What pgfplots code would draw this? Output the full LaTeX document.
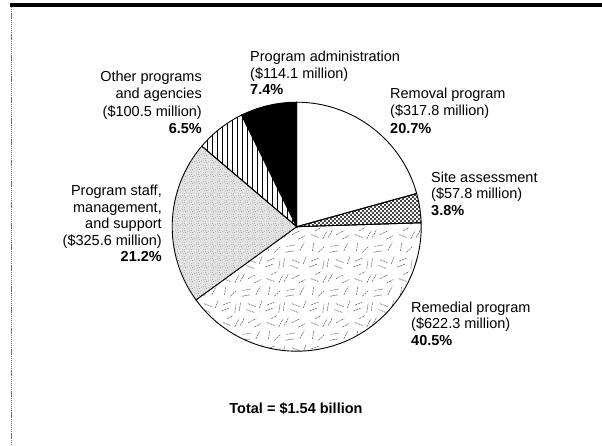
\documentclass[border=0pt]{standalone}
\usepackage{fontspec}
\setmainfont{Liberation Sans}
\usepackage{pgfplots}
\pgfplotsset{compat=1.18}
\usetikzlibrary{patterns}

% random short dashes (remedial program)
\pgfdeclarepatternformonly{remed}{\pgfqpoint{0bp}{0bp}}{\pgfqpoint{44bp}{44bp}}{\pgfqpoint{44bp}{44bp}}{%
  \pgfsetlinewidth{0.55bp}%
  \pgfsetdash{{2.2bp}{0.8bp}}{0bp}%
  \pgfpathmoveto{\pgfqpoint{1.5bp}{3bp}}\pgfpathlineto{\pgfqpoint{9bp}{6bp}}%
  \pgfpathmoveto{\pgfqpoint{3bp}{9bp}}\pgfpathlineto{\pgfqpoint{10.5bp}{12bp}}%
  \pgfpathmoveto{\pgfqpoint{15bp}{1.5bp}}\pgfpathlineto{\pgfqpoint{16.5bp}{10.5bp}}%
  \pgfpathmoveto{\pgfqpoint{19.5bp}{3bp}}\pgfpathlineto{\pgfqpoint{21bp}{12bp}}%
  \pgfpathmoveto{\pgfqpoint{27bp}{4.5bp}}\pgfpathlineto{\pgfqpoint{35bp}{1.5bp}}%
  \pgfpathmoveto{\pgfqpoint{28.5bp}{10.5bp}}\pgfpathlineto{\pgfqpoint{36.5bp}{7.5bp}}%
  \pgfpathmoveto{\pgfqpoint{40bp}{6bp}}\pgfpathlineto{\pgfqpoint{43bp}{14bp}}%
  \pgfpathmoveto{\pgfqpoint{4.5bp}{19.5bp}}\pgfpathlineto{\pgfqpoint{6bp}{28bp}}%
  \pgfpathmoveto{\pgfqpoint{10.5bp}{18bp}}\pgfpathlineto{\pgfqpoint{17bp}{24bp}}%
  \pgfpathmoveto{\pgfqpoint{22bp}{18bp}}\pgfpathlineto{\pgfqpoint{31bp}{19.5bp}}%
  \pgfpathmoveto{\pgfqpoint{23bp}{24bp}}\pgfpathlineto{\pgfqpoint{32bp}{25.5bp}}%
  \pgfpathmoveto{\pgfqpoint{36.5bp}{19.5bp}}\pgfpathlineto{\pgfqpoint{41bp}{28bp}}%
  \pgfpathmoveto{\pgfqpoint{3bp}{36bp}}\pgfpathlineto{\pgfqpoint{11bp}{33bp}}%
  \pgfpathmoveto{\pgfqpoint{15bp}{31.5bp}}\pgfpathlineto{\pgfqpoint{19.5bp}{40bp}}%
  \pgfpathmoveto{\pgfqpoint{20.5bp}{33bp}}\pgfpathlineto{\pgfqpoint{25bp}{41bp}}%
  \pgfpathmoveto{\pgfqpoint{28.5bp}{36bp}}\pgfpathlineto{\pgfqpoint{37bp}{40bp}}%
  \pgfpathmoveto{\pgfqpoint{35bp}{31.5bp}}\pgfpathlineto{\pgfqpoint{42bp}{35bp}}%
  \pgfpathmoveto{\pgfqpoint{7.5bp}{40bp}}\pgfpathlineto{\pgfqpoint{13bp}{43bp}}%
  \pgfusepath{stroke}}

% dense dots (site assessment)
\pgfdeclarepatternformonly{sitedots}{\pgfqpoint{-1bp}{-1bp}}{\pgfqpoint{5bp}{5bp}}{\pgfqpoint{4bp}{4bp}}{%
  \pgfpathcircle{\pgfqpoint{1bp}{1bp}}{1.05bp}%
  \pgfpathcircle{\pgfqpoint{3bp}{3bp}}{1.05bp}%
  \pgfusepath{fill}}

% stipple (program staff)
\pgfdeclarepatternformonly{stipple}{\pgfqpoint{0bp}{0bp}}{\pgfqpoint{7bp}{7bp}}{\pgfqpoint{7bp}{7bp}}{%
  \pgfpathcircle{\pgfqpoint{0.6bp}{1bp}}{0.38bp}%
  \pgfpathcircle{\pgfqpoint{3bp}{0.6bp}}{0.38bp}%
  \pgfpathcircle{\pgfqpoint{5.5bp}{2bp}}{0.38bp}%
  \pgfpathcircle{\pgfqpoint{1.6bp}{3.5bp}}{0.38bp}%
  \pgfpathcircle{\pgfqpoint{4bp}{4bp}}{0.38bp}%
  \pgfpathcircle{\pgfqpoint{6.3bp}{5bp}}{0.38bp}%
  \pgfpathcircle{\pgfqpoint{2.6bp}{6.2bp}}{0.38bp}%
  \pgfpathcircle{\pgfqpoint{0.5bp}{5.8bp}}{0.38bp}%
  \pgfusepath{fill}}

% vertical lines (other programs)
\pgfdeclarepatternformonly{vlines}{\pgfqpoint{0bp}{-1bp}}{\pgfqpoint{5bp}{6bp}}{\pgfqpoint{5bp}{5bp}}{%
  \pgfsetlinewidth{0.7bp}%
  \pgfpathmoveto{\pgfqpoint{2.5bp}{-1bp}}\pgfpathlineto{\pgfqpoint{2.5bp}{6bp}}%
  \pgfusepath{stroke}}

\newcommand{\lf}{\fontsize{14.5bp}{17bp}\selectfont}
% pie centre and radius (axis units = bp)
\def\cx{296.7}
\def\cy{219.3}
\def\R{124.5}
% slice: start percentage, percentage, style
\newcommand{\slice}[3]{%
  \filldraw[line width=0.9bp, #3] (axis cs:\cx,\cy) --
    (axis cs:{\cx+\R*cos(90-3.6*(#1))},{\cy+\R*sin(90-3.6*(#1))})
    arc[start angle={90-3.6*(#1)}, end angle={90-3.6*(#1+#2)}, radius=\R bp] -- cycle;}
\newcommand{\labL}[3]{\node[anchor=base west, inner sep=0pt, font=\lf] at (axis cs:#1,{446-#2}) {#3};}
\newcommand{\labR}[3]{\node[anchor=base east, inner sep=0pt, font=\lf] at (axis cs:#1,{446-#2}) {#3};}

\begin{document}
\begin{tikzpicture}
\begin{axis}[
  scale only axis, width=602bp, height=446bp,
  xmin=0, xmax=602, ymin=0, ymax=446,
  enlargelimits=false, hide axis, clip=false]

% frame
\fill[black] (axis cs:10,{446-7.3}) rectangle (axis cs:602,{446-2.7});
\draw[black!55, line width=0.9bp, dash pattern=on 1.3bp off 0.8bp] (axis cs:11,{446-7}) -- (axis cs:11,0);

% slices (percent of total, clockwise from 12 o'clock)
\slice{0}{20.7}{fill=white}
\slice{20.7}{3.8}{pattern=sitedots}
\slice{24.5}{40.5}{pattern=remed, pattern color=black!60}
\slice{65.0}{21.2}{fill=black!11, postaction={pattern=stipple, pattern color=black!50}}
\slice{86.2}{6.5}{pattern=vlines}
\slice{92.7}{7.3}{fill=black}

% labels
\labL{250}{61.5}{Program administration}
\labL{250}{78.2}{(\$114.1 million)}
\labL{250}{94.8}{\textbf{7.4\%}}

\labR{202}{81.5}{Other programs}
\labR{202}{98.8}{and agencies}
\labR{202}{116.2}{(\$100.5 million)}
\labR{202}{133.5}{\textbf{6.5\%}}

\labL{390}{98.2}{Removal program}
\labL{390}{115.5}{(\$317.8 million)}
\labL{390}{133.2}{\textbf{20.7\%}}

\labL{431}{182.5}{Site assessment}
\labL{431}{199}{(\$57.8 million)}
\labL{431}{215.5}{\textbf{3.8\%}}

\labL{411}{312.2}{Remedial program}
\labL{411}{328.5}{(\$622.3 million)}
\labL{411}{345.5}{\textbf{40.5\%}}

\labR{162}{195.5}{Program staff,}
\labR{162}{212.2}{management,}
\labR{162}{228.5}{and support}
\labR{162}{245.5}{(\$325.6 million)}
\labR{162}{261.5}{\textbf{21.2\%}}

\node[anchor=base, inner sep=0pt, font=\lf\bfseries] at (axis cs:296,{446-414}) {Total = \$1.54 billion};
\end{axis}
\pgfresetboundingbox
\path (0,0) rectangle (602bp,446bp);
\end{tikzpicture}
\end{document}
